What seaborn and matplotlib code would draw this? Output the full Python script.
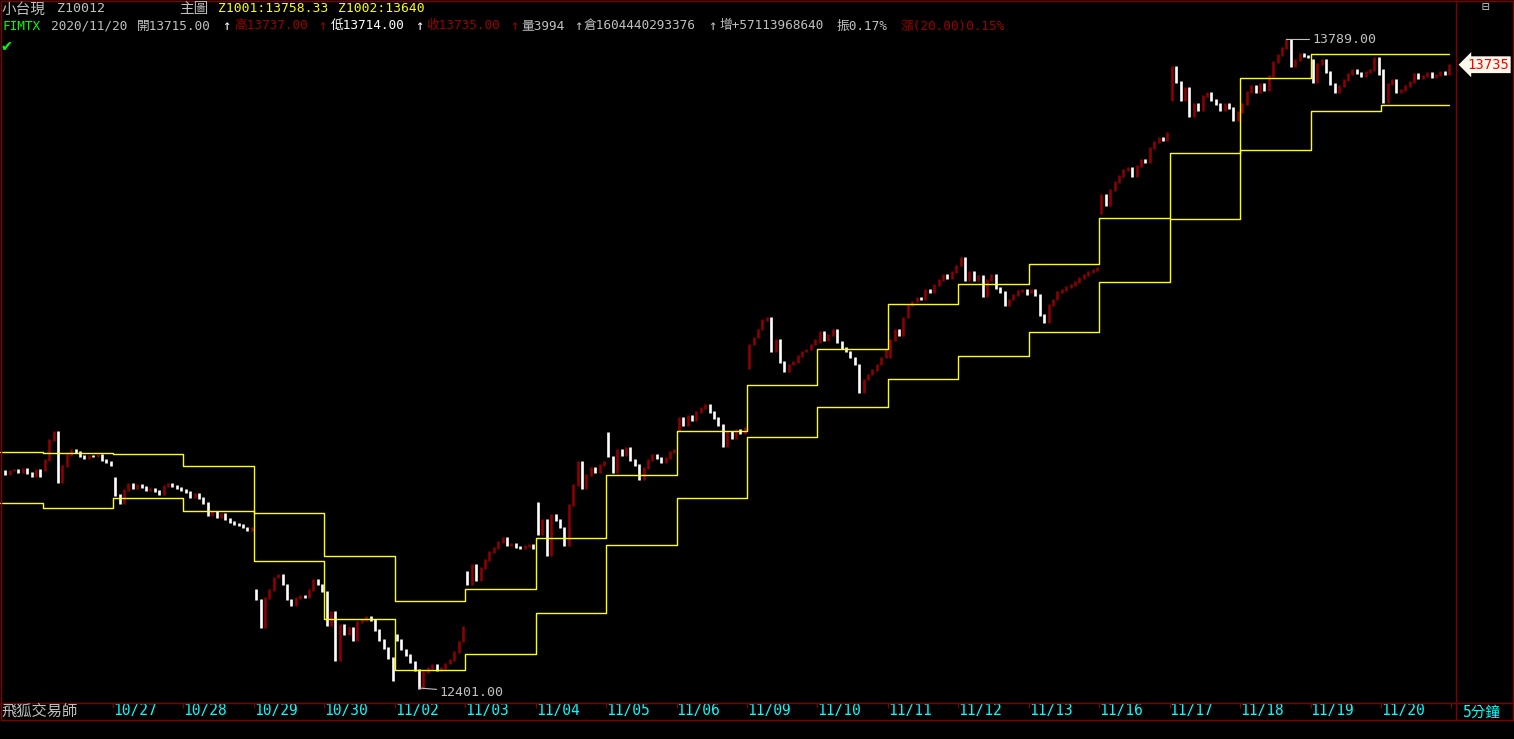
import numpy as np
import pandas as pd
import matplotlib
matplotlib.use('Agg')
import matplotlib.pyplot as plt
import seaborn as sns
from matplotlib.lines import Line2D

# 5分K 讀圖估計: 每日第一個值是開盤, 其後為各K收盤
d1023 = [12866, 12859, 12866, 12868, 12863, 12870, 12861, 12855, 12868, 12855]
d1026 = [12868, 12889, 12932, 12949, 12842, 12876, 12900, 12910, 12906, 12898, 12893, 12898, 12896, 12900, 12889, 12885, 12878]
d1027 = [12851, 12814, 12797, 12825, 12838, 12829, 12836, 12831, 12825, 12827, 12823, 12816, 12833, 12838, 12833, 12829, 12825]
d1028 = [12825, 12821, 12810, 12816, 12808, 12797, 12771, 12778, 12767, 12774, 12763, 12756, 12752, 12750, 12744, 12739, 12744]
d1029 = [12611, 12590, 12530, 12594, 12611, 12637, 12643, 12622, 12590, 12579, 12594, 12598, 12596, 12611, 12632, 12622, 12607]
d1030 = [12607, 12536, 12564, 12461, 12536, 12515, 12530, 12504, 12542, 12547, 12553, 12547, 12525, 12504, 12487, 12465, 12418]
d1102 = [12515, 12504, 12483, 12472, 12457, 12440, 12401, 12435, 12444, 12450, 12440, 12444, 12453, 12461, 12478, 12500, 12532]
d1103 = [12649, 12622, 12664, 12632, 12658, 12675, 12692, 12701, 12714, 12722, 12707, 12709, 12703, 12701, 12705, 12707, 12701]
d1104 = [12797, 12729, 12761, 12686, 12771, 12761, 12744, 12707, 12793, 12836, 12885, 12829, 12857, 12872, 12863, 12878, 12885]
d1105 = [12947, 12896, 12863, 12910, 12900, 12915, 12889, 12878, 12847, 12872, 12889, 12900, 12893, 12885, 12893, 12906, 12910]
d1106 = [12953, 12979, 12964, 12983, 12975, 12992, 13000, 13007, 12992, 12979, 12964, 12919, 12949, 12936, 12953, 12947, 12958]
d1109 = [13086, 13136, 13151, 13168, 13189, 13194, 13121, 13146, 13099, 13078, 13093, 13099, 13112, 13121, 13125, 13136, 13146]
d1110 = [13142, 13164, 13146, 13157, 13168, 13142, 13129, 13121, 13108, 13093, 13035, 13061, 13072, 13082, 13093, 13108, 13125]
d1111 = [13108, 13146, 13168, 13157, 13194, 13221, 13228, 13236, 13232, 13253, 13249, 13264, 13274, 13285, 13279, 13291, 13304]
d1112 = [13306, 13321, 13274, 13291, 13274, 13283, 13240, 13274, 13285, 13257, 13249, 13221, 13232, 13242, 13251, 13253, 13244]
d1113 = [13249, 13253, 13242, 13199, 13184, 13221, 13232, 13249, 13253, 13259, 13264, 13270, 13279, 13285, 13291, 13296, 13300]
d1116 = [13418, 13456, 13435, 13467, 13484, 13497, 13510, 13514, 13497, 13518, 13531, 13527, 13557, 13570, 13578, 13574, 13589]
d1117 = [13660, 13730, 13698, 13660, 13685, 13625, 13651, 13638, 13668, 13675, 13660, 13651, 13638, 13651, 13642, 13617, 13634]
d1118 = [13634, 13651, 13677, 13689, 13677, 13694, 13681, 13711, 13741, 13756, 13771, 13789, 13732, 13745, 13758, 13754, 13752]
d1119 = [13745, 13698, 13737, 13745, 13719, 13694, 13675, 13689, 13702, 13715, 13724, 13717, 13711, 13719, 13724, 13749, 13715]
d1120 = [13724, 13655, 13694, 13702, 13677, 13681, 13689, 13698, 13715, 13707, 13711, 13717, 13709, 13713, 13719, 13715, 13735]

days = ['10/23', '10/26', '10/27', '10/28', '10/29', '10/30', '11/02', '11/03', '11/04', '11/05', '11/06',
        '11/09', '11/10', '11/11', '11/12', '11/13', '11/16', '11/17', '11/18', '11/19', '11/20']

# 兩條每日階梯線 (Z1001 / Z1002)
z1001 = [12796, 12786, 12807, 12780, 12775, 12683, 12587, 12612, 12721, 12857, 12950,
         13049, 13126, 13222, 13265, 13308, 13406, 13545, 13706, 13758, 13758]
z1002 = [12907, 12903, 12901, 12876, 12673, 12548, 12440, 12473, 12562, 12706, 12807,
         12938, 13002, 13062, 13111, 13162, 13269, 13404, 13553, 13636, 13648]

W, H = 1514, 739
RED_K = '#8b0000'
RED_T = '#9a0000'
FRAME = '#800000'
GRAY = '#c0c0c0'
CYAN = '#00ffff'
YEL = '#ffff00'
BARS = 16  # 每日K棒數

sns.set_theme(style='dark', rc={'axes.facecolor': 'black', 'figure.facecolor': 'black'})
plt.rcParams['font.family'] = ['DejaVu Sans Mono', 'Noto Sans CJK TC']


def fx(px):
    return px / W


def fy(py):
    return 1 - py / H


day_data = [d1023, d1026, d1027, d1028, d1029, d1030, d1102, d1103, d1104, d1105, d1106,
            d1109, d1110, d1111, d1112, d1113, d1116, d1117, d1118, d1119, d1120]
starts = [-(len(d1023) - 1)] + [BARS * (k - 1) for k in range(1, len(day_data))]

rows = []
for k, vals in enumerate(day_data):
    prev = vals[0]
    for j, c in enumerate(vals[1:]):
        rows.append({'x': starts[k] + j + 0.5, 'open': prev, 'close': c, 'day': days[k]})
        prev = c
kbar = pd.DataFrame(rows)
kbar['up'] = kbar['close'] >= kbar['open']

fig = plt.figure(figsize=(W / 100, H / 100), dpi=100)
ax = fig.add_axes([0, fy(703), fx(1456), 703 / H])
ax.set_facecolor('black')

x_left = -9.68
x_right = 321.04
ax.set_xlim(x_left, x_right)
ax.set_ylim(12368.9, 13873.5)

lo = np.minimum(kbar['open'], kbar['close']) - 1.6
hi = np.maximum(kbar['open'], kbar['close']) + 1.6
ax.vlines(kbar['x'], lo, hi, colors=np.where(kbar['up'], RED_K, 'white'), linewidth=1.9)

# 階梯線
x_end = kbar['x'].iloc[-1]
line_x = [x_left] + starts[1:] + [x_end]
for vals in (z1001, z1002):
    sns.lineplot(x=line_x, y=vals + [vals[-1]], drawstyle='steps-post', color=YEL,
                 linewidth=1.0, ax=ax, estimator=None)

# 最高 / 最低 標示
imax = kbar['close'].idxmax()
imin = kbar['close'].idxmin()
ax.annotate(f"{kbar['close'][imax]:.2f}", xy=(kbar['x'][imax], kbar['close'][imax]),
            xytext=(19, 0), textcoords='offset points', color=GRAY, fontsize=9.5,
            va='center', ha='left',
            arrowprops=dict(arrowstyle='-', color=GRAY, lw=0.8, shrinkA=0, shrinkB=0))
ax.annotate(f"{kbar['close'][imin]:.2f}", xy=(kbar['x'][imin], kbar['close'][imin]),
            xytext=(15, -3), textcoords='offset points', color=GRAY, fontsize=9.5,
            va='center', ha='left',
            arrowprops=dict(arrowstyle='-', color=GRAY, lw=0.8, shrinkA=0, shrinkB=0))

# 日期軸
tick_pos = starts[2:] + [BARS * (len(day_data) - 1)]
ax.set_xticks(tick_pos)
ax.set_xticklabels(days[2:] + [''])
ax.set_yticks([])
ax.tick_params(axis='x', direction='out', length=3.6, width=0.75, color=FRAME,
               labelcolor=CYAN, labelsize=10.5, pad=-3.6, bottom=True)
for lab in ax.get_xticklabels():
    lab.set_ha('left')
for s in ax.spines.values():
    s.set_visible(False)
ax.set_xlabel('')
ax.set_ylabel('')

# 右側價格欄
ax_r = fig.add_axes([fx(1456), fy(703), fx(57), 703 / H])
ax_r.set_ylim(ax.get_ylim())
ax_r.set_xlim(0, 1)
ax_r.axis('off')
ax_r.text(0.2, kbar['close'].iloc[-1], f"{kbar['close'].iloc[-1]:.0f}", color='#ff0000',
          fontsize=10, ha='left', va='center',
          bbox=dict(boxstyle='larrow,pad=0.1', fc='#fff8ec', ec='none'))

# 外框
for xs, ys in [((0.5, 1513), (0.5, 0.5)), ((0.5, 0.5), (0.5, 720)), ((1513, 1513), (0.5, 720)),
               ((1456, 1456), (0.5, 720)), ((0.5, 1513), (703, 703)), ((0.5, 1513), (720, 720))]:
    fig.add_artist(Line2D([fx(v) for v in xs], [fy(v) for v in ys], color=FRAME, lw=1.0,
                          transform=fig.transFigure))


# 標題列
def t(px, py, s, c=GRAY, size=9.2):
    fig.text(fx(px), fy(py), s, color=c, fontsize=size, va='center', ha='left')


t(2, 9, '小台現', GRAY, 10.5)
t(57, 9, 'Z10012', GRAY, 9.6)
t(179, 9, '主圖', GRAY, 10.5)
t(218, 9, 'Z1001:13758.33', YEL, 9.4)
t(338, 9, 'Z1002:13640', YEL, 9.4)

t(2, 26, 'FIMTX', '#00ff00')
t(51, 26, '2020/11/20')
t(137, 26, '開13715.00')
t(222, 26, '↑', 'white', 10)
t(234, 26, '高13737.00', RED_T)
t(318, 26, '↑', RED_T, 10)
t(331, 26, '低13714.00', 'white')
t(415, 26, '↑', 'white', 10)
t(426, 26, '收13735.00', RED_T)
t(510, 26, '↑', RED_T, 10)
t(521, 26, '量3994')
t(574, 26, '↑', GRAY, 10)
t(584, 26, '倉1604440293376')
t(708, 26, '↑', GRAY, 10)
t(719, 26, '增+57113968640')
t(837, 26, '振0.17%')
t(901, 26, '漲(20.00)0.15%', RED_T)
t(1, 46, '✔', '#00ff00', 12)
t(1481, 7, '⊟', GRAY, 9)

t(2, 711, '飛狐交易師', GRAY, 11)
t(1463, 712, '5分鐘', CYAN, 10.5)

fig.savefig('out.png', dpi=100, facecolor='black')
